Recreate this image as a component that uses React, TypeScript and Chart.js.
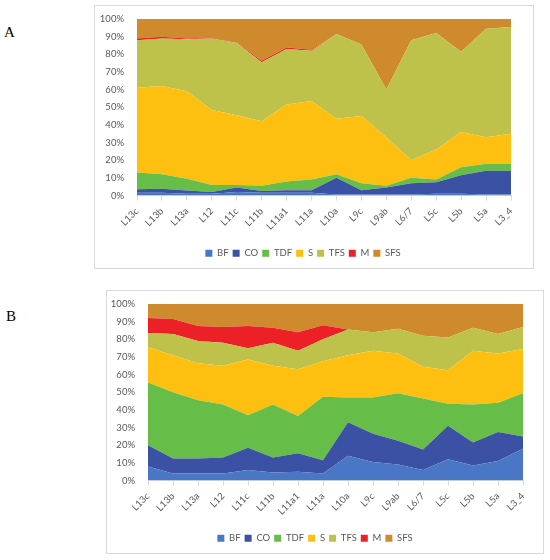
import React, { useEffect, useRef } from 'react';
import { Chart, registerables } from 'chart.js';

Chart.register(...registerables);

const categories = ['L13c', 'L13b', 'L13a', 'L12', 'L11c', 'L11b', 'L11a1', 'L11a', 'L10a', 'L9c', 'L9ab', 'L6/7', 'L5c', 'L5b', 'L5a', 'L3_4'];
const seriesNames = ['BF', 'CO', 'TDF', 'S', 'TFS', 'M', 'SFS'];
const seriesColors = ['#4a76c6', '#3b51a3', '#66bd47', '#fec010', '#bec24b', '#ec2127', '#d08a2e'];
const yTicks = [0, 10, 20, 30, 40, 50, 60, 70, 80, 90, 100];

// panel A, share of each layer in %
const bfA = [1.5, 1.5, 1, 1, 2, 1.5, 1.5, 1.5, 0.5, 0.5, 0.5, 0.5, 1, 1, 0.5, 0.5];
const coA = [2, 2.3, 1.8, 1, 2.5, 1, 1.5, 1.5, 9.5, 2.5, 4, 6.5, 6.5, 10.5, 13.5, 13.5];
const tdfA = [9.5, 8.2, 6.7, 4, 1.5, 3, 5, 6, 2, 4, 1, 3, 1.5, 4.5, 4, 4];
const sA = [48, 50, 49.5, 42.5, 39.5, 36.5, 43.5, 44.5, 31.5, 38, 27.5, 10, 17, 20, 15, 17];
const tfsA = [27, 27, 29.5, 40.5, 41, 33.5, 31.5, 28.5, 48, 40.5, 27, 68, 66, 45.5, 61.5, 60.5];
const mA = [1, 1, 0.5, 0.3, 0.3, 0.8, 0.8, 0.6, 0, 0, 0, 0, 0, 0, 0, 0];
const sfsA = [11, 10, 11, 10.7, 13.2, 23.7, 16.2, 17.4, 8.5, 14.5, 40, 12, 8, 18.5, 5.5, 4.5];

// panel B
const bfB = [8, 4, 4, 4, 6, 4.5, 5, 4, 14, 10.5, 9, 6, 12, 8.5, 11, 18];
const coB = [12, 8.5, 8.5, 9, 12.5, 8.5, 10.5, 7.5, 19, 16, 13.5, 11.5, 19, 13, 16.5, 7];
const tdfB = [35.5, 37.5, 33, 30, 18.5, 30, 21, 36, 14, 20.5, 27, 29, 12.5, 21.5, 16.5, 24.5];
const sB = [20, 21, 21, 22, 31.5, 22, 26.5, 20, 24, 26.5, 22.5, 18, 19, 30.5, 28, 25];
const tfsB = [8, 12, 12.5, 13, 6.5, 13, 10.5, 12.5, 14.5, 10.5, 14, 17.5, 18.5, 13, 11, 12.5];
const mB = [8.5, 8.5, 8.5, 9, 12.5, 8.5, 10.5, 8, 0, 0, 0, 0, 0, 0, 0, 0];
const sfsB = [8, 8.5, 12.5, 13, 12.5, 13.5, 16, 12, 14.5, 16, 14, 18, 19, 13.5, 17, 13];

const tickFont = { family: 'Lato', size: 9.5 };
const legendFont = { family: 'Lato', size: 9.5 };
const textColor = '#595959';

interface PanelProps {
  series: number[][];
  left: number;
  top: number;
  width: number;
  height: number;
  padLeft: number;
  padRight: number;
}

const AreaPanel: React.FC<PanelProps> = ({ series, left, top, width, height, padLeft, padRight }) => {
  const canvasRef = useRef<HTMLCanvasElement>(null);

  useEffect(() => {
    if (!canvasRef.current) return;
    const chart = new Chart(canvasRef.current, {
      type: 'line',
      data: {
        labels: categories,
        datasets: series.map((values, i) => ({
          label: seriesNames[i],
          data: values,
          backgroundColor: seriesColors[i],
          borderColor: seriesColors[i],
          borderWidth: 0,
          pointRadius: 0,
          tension: 0,
          fill: i === 0 ? 'origin' : '-1',
        })),
      },
      options: {
        animation: false,
        responsive: true,
        maintainAspectRatio: false,
        layout: { padding: { left: 0, right: padRight, top: 13, bottom: 0 } },
        scales: {
          x: {
            offset: false,
            grid: { display: true, drawOnChartArea: false, drawTicks: true, tickLength: 5, color: '#d9d9d9' },
            border: { color: '#d9d9d9' },
            ticks: { autoSkip: false, maxRotation: 45, minRotation: 45, font: tickFont, color: textColor, padding: 5 },
            afterFit: (scale: any) => { scale.height = 49; },
          },
          y: {
            stacked: true,
            min: 0,
            max: 100,
            afterBuildTicks: (scale: any) => { scale.ticks = yTicks.map((v) => ({ value: v })); },
            ticks: { font: tickFont, color: textColor, callback: (v: any) => v + '%', padding: 5 },
            grid: { display: false },
            border: { display: false },
            afterFit: (scale: any) => { scale.width = padLeft; },
          },
        },
        plugins: {
          legend: {
            position: 'bottom',
            labels: { boxWidth: 7, boxHeight: 7, font: legendFont, color: textColor, padding: 4 },
          },
          tooltip: { enabled: false },
        },
      },
    });
    return () => chart.destroy();
  }, [series, padLeft, padRight]);

  return (
    <div style={{ position: 'absolute', left, top, width, height, border: '1px solid #d9d9d9', boxSizing: 'border-box', background: '#fff' }}>
      <canvas ref={canvasRef} />
    </div>
  );
};

const panelA = [bfA, coA, tdfA, sA, tfsA, mA, sfsA];
const panelB = [bfB, coB, tdfB, sB, tfsB, mB, sfsB];

const App: React.FC = () => (
  <div style={{ position: 'absolute', left: 0, top: 0, width: 550, height: 560, background: '#fff' }}>
    <div style={{ position: 'absolute', left: 4, top: 24, fontFamily: '"Liberation Serif", serif', fontSize: 15 }}>A</div>
    <div style={{ position: 'absolute', left: 6, top: 308, fontFamily: '"Liberation Serif", serif', fontSize: 15 }}>B</div>
    <AreaPanel series={panelA} left={94} top={5} width={440} height={264} padLeft={42} padRight={22} />
    <AreaPanel series={panelB} left={106} top={290} width={438} height={264} padLeft={41} padRight={20} />
  </div>
);

export default App;
